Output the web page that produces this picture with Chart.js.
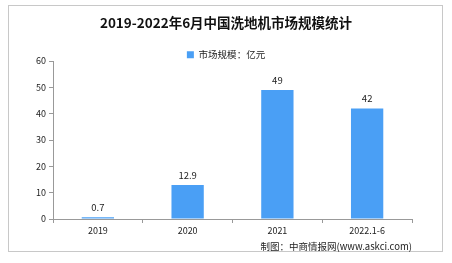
<!DOCTYPE html>
<html><head><meta charset="utf-8">
<script src="https://cdn.jsdelivr.net/npm/chart.js@4/dist/chart.umd.min.js"></script>
<style>
html,body{margin:0;padding:0;background:#fff;}
#wrap{position:relative;width:452px;height:263px;}
#frame{position:absolute;left:8px;top:5px;width:435px;height:247px;border:1px solid #c8c8c8;box-sizing:border-box;}
#c{position:absolute;left:0;top:0;}
#foot{position:absolute;right:40px;top:239px;font:9.5px "Noto Sans CJK SC",sans-serif;color:#222;white-space:nowrap;}
</style></head>
<body><div id="wrap"><div id="frame"></div><canvas id="c" width="452" height="263"></canvas>
<div id="foot">制图：中商情报网(www.askci.com)</div></div>
<script>
const categories = ["2019","2020","2021","2022.1-6"];
const marketSize = [0.7, 12.9, 49, 42];
const valueLabels = ["0.7","12.9","49","42"];
const yTicks = [0,10,20,30,40,50,60];
const seriesName = "市场规模：亿元";
const titleText = "2019-2022年6月中国洗地机市场规模统计";

const labelPlugin = {
  id:'vlabels',
  afterDatasetsDraw(chart){
    const ctx = chart.ctx;
    const meta = chart.getDatasetMeta(0);
    ctx.save();
    ctx.font = '9.5px "Noto Sans CJK SC", sans-serif';
    ctx.fillStyle = '#222';
    ctx.textAlign = 'center';
    ctx.textBaseline = 'bottom';
    meta.data.forEach((bar,i)=>{
      ctx.fillText(valueLabels[i], bar.x, bar.y - 5);
    });
    ctx.restore();
  }
};

const legendShift = {
  id:'legendShift',
  afterLayout(chart){
    const l = chart.legend;
    if (l) { l.top += 8.5; l.bottom += 8.5; }
  }
};

new Chart(document.getElementById('c'), {
  type:'bar',
  data:{labels:categories, datasets:[{label:seriesName, data:marketSize, backgroundColor:'#4a9ff5', borderWidth:0, barPercentage:0.36, categoryPercentage:1}]},
  options:{
    responsive:false, animation:false,
    layout:{padding:{left:0,right:0,top:0,bottom:24}},
    plugins:{
      title:{display:true,text:titleText,color:'#111',font:{family:'"Noto Sans CJK SC", sans-serif',size:13.5,weight:'bold'},padding:{top:14.5,bottom:10.8}},
      legend:{display:true,labels:{boxWidth:7,boxHeight:7,color:'#222',font:{family:'"Noto Sans CJK SC", sans-serif',size:9.5},padding:0}},
      tooltip:{enabled:false}
    },
    scales:{
      x:{
        grid:{display:true,drawOnChartArea:false,drawTicks:true,tickLength:4,color:'#999',offset:true},
        border:{display:true,color:'#999'},
        ticks:{color:'#222',font:{family:'"Noto Sans CJK SC", sans-serif',size:9},padding:2,maxRotation:0},
        afterFit(s){s.height=20;}
      },
      y:{
        min:0,max:60,
        afterBuildTicks(s){s.ticks = yTicks.map(v=>({value:v}));},
        grid:{display:true,drawOnChartArea:false,drawTicks:true,tickLength:4,color:'#999'},
        border:{display:true,color:'#999'},
        ticks:{color:'#222',font:{family:'"Noto Sans CJK SC", sans-serif',size:9},padding:3},
        afterFit(s){s.width=53;}
      },
      yRight:{
        position:'right', display:true,
        grid:{display:false}, border:{display:false}, ticks:{display:false},
        afterFit(s){s.width=40;}
      }
    }
  },
  plugins:[labelPlugin, legendShift]
});
</script></body></html>
